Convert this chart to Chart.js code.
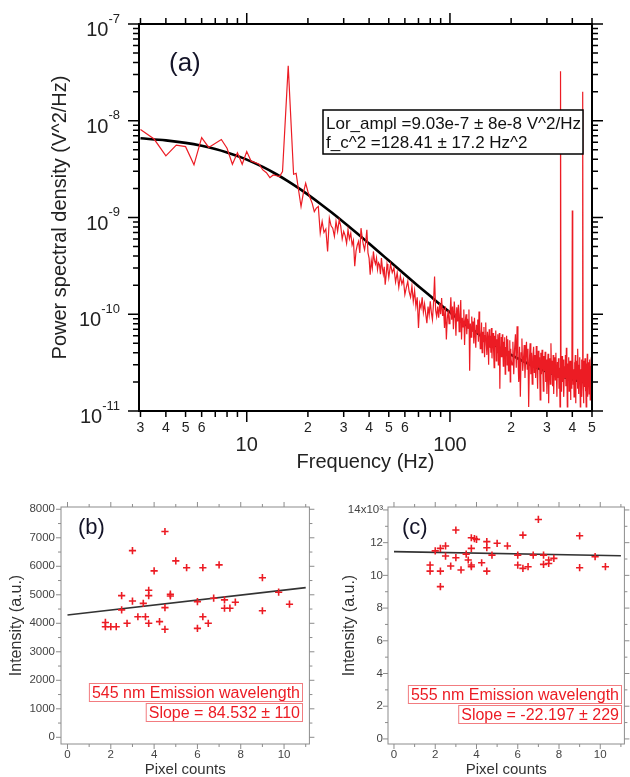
<!DOCTYPE html>
<html>
<head>
<meta charset="utf-8">
<script src="https://cdn.jsdelivr.net/npm/chart.js@4/dist/chart.umd.min.js"></script>
<style>
  html, body { margin: 0; padding: 0; background: #fff; }
  body { width: 630px; height: 777px; position: relative; overflow: hidden; }
  canvas { position: absolute; }
  #psd { left: 0; top: 0; }
  #emB { left: 0; top: 485px; }
  #emC { left: 315px; top: 485px; }
</style>
</head>
<body>
<canvas id="psd" width="630" height="480"></canvas>
<canvas id="emB" width="315" height="292"></canvas>
<canvas id="emC" width="315" height="292"></canvas>
<script>
// ---- (a) power spectrum, PSD values in µV^2/Hz (1 µV^2 = 1e-12 V^2) ----
const lowFreq = [3, 3.5, 4, 4.5, 5, 5.5, 6, 6.5, 7.5, 8, 8.5, 9, 9.5, 10, 10.5, 11, 11.5, 12, 12.5, 13,
  13.5, 14, 14.5, 15, 16, 17];
const lowPsd = [8100, 6470, 4330, 5600, 5400, 3500, 6700, 5300, 6400, 5200, 3550, 4670, 3550, 4800, 3840, 3700,
  3550, 3100, 2900, 2580, 2750, 2700, 2650, 2980, 37000, 2800];

const midFreq = [17.5, 18, 18.5, 19, 19.5, 20, 20.5, 21, 21.5, 22,
  22.5, 23, 23.5, 24, 24.5, 25, 25.5, 26, 26.5, 27,
  27.5, 28, 28.5, 29, 29.5, 30, 30.5, 31, 31.5, 32,
  32.5, 33, 33.5, 34, 34.5, 35, 35.5, 36, 36.5, 37,
  37.5, 38, 38.5, 39, 39.5, 40, 40.5, 41, 41.5, 42,
  42.5, 43, 43.5, 44, 44.5, 45, 45.5, 46, 46.5, 47,
  47.5, 48, 48.5, 49, 49.5, 50,
  51, 52, 53, 54, 55, 56, 57, 58, 59, 60,
  61, 62, 63, 64, 65, 66, 67, 68, 69, 70,
  71, 72, 73, 74, 75, 76, 77, 78, 79, 80,
  81, 82, 83, 84, 85, 86, 87, 88, 89, 90,
  91, 92, 93, 94, 95, 96, 97, 98, 99];
const midPsd = [2860, 1900, 1300, 1800, 2260, 1850, 1600, 1400, 1150, 1250,
  1300, 690, 910, 700, 760, 446, 984, 820, 776, 640,
  910, 720, 946, 820, 600, 717, 650, 540, 746, 600,
  689, 520, 580, 313, 450, 520, 566, 430, 776, 620,
  520, 464, 560, 746, 430, 380, 256, 360, 300, 446,
  360, 330, 381, 290, 340, 325, 260, 380, 300, 260,
  310, 202, 250, 330, 289, 240,
  330, 270, 301, 215, 270, 190, 250, 205, 230, 160,
  190, 219, 170, 150, 195, 136, 175, 120, 150, 72,
  130, 116, 150, 105, 128, 100, 81, 120, 98, 136,
  104, 88, 130, 246, 110, 95, 120, 92, 130, 100,
  147, 96, 115, 72, 120, 55, 90, 110, 80];

const highFreq = [100, 101, 102, 103, 104, 105, 106, 107, 108, 109,
  110, 111, 112, 113, 114, 115, 116, 117, 118, 119,
  120, 121, 122, 123, 124, 125, 126, 127, 128, 129,
  130, 131, 132, 133, 134, 135, 136, 137, 138, 139,
  140, 141, 142, 143, 144, 145, 146, 147, 148, 149,
  150, 151, 152, 153, 154, 155, 156, 157, 158, 159,
  160, 161, 162, 163, 164, 165, 166, 167, 168, 169,
  170, 171, 172, 173, 174, 175, 176, 177, 178, 179,
  180, 181, 182, 183, 184, 185, 186, 187, 188, 189,
  190, 191, 192, 193, 194, 195, 196, 197, 198, 199,
  200];
const highPsd = [95, 150, 88, 120, 70, 135, 102, 60, 118, 84,
  125, 66, 98, 140, 55, 92, 74, 112, 48, 86,
  100, 62, 90, 72, 112, 26, 80, 58, 95, 66,
  84, 50, 92, 60, 45, 78, 64, 88, 52, 107,
  70, 44, 58, 82, 40, 66, 52, 74, 36, 60,
  82, 48, 38, 66, 56, 30, 70, 45, 60, 40,
  72, 35, 55, 64, 42, 28, 60, 48, 68, 33,
  55, 40, 62, 30, 50, 64, 17, 46, 36, 58,
  36, 62, 44, 29, 52, 40, 58, 24, 46, 38,
  60, 30, 47, 55, 26, 42, 36, 54, 20, 44,
  34];

const topFreq = [202, 204, 206, 208, 210, 212, 214, 216, 218, 220,
  222, 224, 226, 228, 230, 232, 234, 236, 238, 240,
  242, 244, 246, 248, 250, 252, 254, 256, 258, 260,
  262, 264, 266, 268, 270, 272, 274, 276, 278, 280,
  282, 284, 286, 288, 290, 292, 294, 296, 298, 300,
  302, 304, 306, 308, 310, 312, 314, 316, 318, 320,
  322, 324, 326, 328, 330, 332, 334, 336, 338, 340,
  342, 344, 346, 348, 350, 352, 354, 356, 358, 360,
  362, 364, 366, 368, 370, 372, 374, 376, 378, 380,
  382, 384, 386, 388, 390, 392, 394, 396, 398, 400,
  402, 404, 406, 408, 410, 412, 414, 416, 418, 420,
  422, 424, 426, 428, 430, 432, 434, 436, 438, 440,
  442, 444, 446, 448, 450, 452, 454, 456, 458, 460,
  462, 464, 466, 468, 470, 472, 474, 476, 478, 480,
  482, 484, 486, 488, 490, 492, 494, 496, 498, 500];
const topPsd = [30, 52, 24, 44, 62, 28, 75, 36, 20, 46,
  14, 40, 56, 26, 34, 48, 22, 38, 52, 27,
  44, 11, 33, 50, 24, 40, 19, 36, 46, 25,
  38, 22, 47, 30, 17, 42, 28, 36, 13, 40,
  24, 43, 31, 16, 37, 26, 41, 20, 34, 15,
  30, 39, 12, 27, 35, 19, 50, 24, 33, 18,
  38, 15, 29, 36, 21, 40, 25, 14, 32, 22,
  35, 17, 28, 11, 32500, 16, 30, 37, 20, 26,
  34, 14, 29, 22, 38, 18, 45, 25, 11, 31,
  21, 36, 16, 28, 33, 13, 30, 24, 17, 1180,
  35, 19, 27, 14, 32, 24, 38, 12, 29, 21,
  33, 17, 44, 25, 15, 30, 22, 36, 11, 27,
  20, 34, 14, 28, 19900, 23, 12, 33, 18, 29,
  35, 16, 26, 11, 31, 22, 39, 14, 28, 19,
  32, 15, 25, 34, 13, 29, 21, 36, 18, 64];

// Lorentzian fit curve
const fitFreq = [3, 4, 5, 6, 7, 8, 9, 10, 12, 14, 16, 18, 20, 23, 26, 30, 35, 40, 45, 50,
  60, 70, 80, 90, 100, 120, 150, 180, 200, 250, 300, 350, 400, 450, 500];
const fitPsd = [6587, 6269, 5902, 5508, 5105, 4709, 4328, 3969, 3330, 2799, 2365, 2011, 1724, 1389, 1138, 894,
  683, 538, 435, 359, 258, 195, 154, 125, 104.7, 77.7, 55.4, 43.3, 38.0, 29.9, 25.5, 22.9, 21.1, 20.0, 19.1];

const psdXTicks = [3, 4, 5, 6, 7, 8, 9, 10, 20, 30, 40, 50, 60, 70, 80, 90, 100, 200, 300, 400, 500];
const psdXLabels = ['3', '4', '5', '6', '', '', '', '10', '2', '3', '4', '5', '6', '', '', '', '100', '2', '3', '4', '5'];
const psdXMajor = [10, 100];
const psdYDecades = [1e-11, 1e-10, 1e-9, 1e-8, 1e-7];
const psdYExponents = ['-11', '-10', '-9', '-8', '-7'];
const decadeSteps = [2, 3, 4, 5, 6, 7, 8, 9];

// ---- (b) 545 nm emission ----
const bPixels = [1.75, 1.75, 2, 2.25, 2.5, 2.5, 2.75, 3, 3, 3.25, 3.5, 3.6, 3.75, 3.75, 3.75, 4, 4.25, 4.5, 4.5, 4.5,
  4.75, 4.75, 5, 5.5, 6, 6, 6.25, 6.25, 6.5, 6.75, 7, 7.25, 7.25, 7.5, 7.75, 9, 9, 9.75, 10.25];
const bIntensity = [4030, 3880, 3880, 3880, 4970, 4470, 4000, 6550, 4780, 4230, 4700, 4230, 5160, 4970, 4000, 5840, 4060, 7220, 4550, 3790,
  5020, 4960, 6190, 5950, 4760, 3820, 5950, 4230, 4000, 4880, 6050, 4820, 4530, 4530, 4740, 5600, 4440, 5090, 4670];
const bFitX = [0, 11];
const bFitY = [4290, 5250];
const bYTicks = [0, 1000, 2000, 3000, 4000, 5000, 6000, 7000, 8000];
const bYMinor = [500, 1500, 2500, 3500, 4500, 5500, 6500, 7500];

// ---- (c) 555 nm emission, intensity in 10^3 ----
const cPixels = [1.75, 1.75, 2, 2.25, 2.25, 2.25, 2.5, 2.5, 2.75, 3, 3, 3.25, 3.5, 3.6, 3.75, 3.75, 3.75, 3.75, 3.9, 4,
  4.25, 4.5, 4.5, 4.5, 4.75, 5, 5.5, 6, 6, 6.25, 6.25, 6.5, 6.75, 7, 7.25, 7.25, 7.5, 7.5, 7.75, 9, 9, 9.75, 10.25];
const cIntensity = [10.63, 10.26, 11.5, 11.65, 10.26, 9.31, 11.8, 11.18, 10.57, 12.77, 11.08, 10.33, 11.3, 10.94, 12.3, 11.65, 10.63, 10.53, 12.25, 12.2,
  10.77, 12.06, 11.69, 10.26, 11.24, 11.96, 11.8, 11.24, 10.63, 12.46, 10.43, 10.53, 11.24, 13.42, 11.24, 10.67, 10.94, 10.73, 11.04, 12.42, 10.47, 11.14, 10.53];
const cFitX = [0, 11];
const cFitY = [11.45, 11.2];
const cYTicks = [0, 2, 4, 6, 8, 10, 12, 14];
const cYMinor = [1, 3, 5, 7, 9, 11, 13];

const emXTicks = [0, 2, 4, 6, 8, 10];
const emXMinor = [1, 3, 5, 7, 9, 11];

const FONT = '"Liberation Sans", Arial, sans-serif';
Chart.defaults.font.family = FONT;

const RED = '#ec1c24';
const toPoints = (xs, ys, k) => xs.map((x, i) => ({ x: x, y: ys[i] * k }));

// box frame with outward ticks on all four sides (Igor style)
function makeFrame(o) {
  return {
    id: 'frame',
    afterDatasetsDraw(chart) {
      const { ctx, chartArea: a, scales: { x, y } } = chart;
      ctx.save();
      ctx.strokeStyle = o.color;
      ctx.lineWidth = o.tickWidth;
      const mark = (axis, vals, len) => {
        vals.forEach(v => {
          const p = axis.getPixelForValue(v);
          ctx.beginPath();
          if (axis === x) {
            ctx.moveTo(p, a.bottom); ctx.lineTo(p, a.bottom + len);
            ctx.moveTo(p, a.top); ctx.lineTo(p, a.top - len);
          } else {
            ctx.moveTo(a.left, p); ctx.lineTo(a.left - len, p);
            ctx.moveTo(a.right, p); ctx.lineTo(a.right + len, p);
          }
          ctx.stroke();
        });
      };
      mark(x, o.xMajor, o.majorLen);
      mark(x, o.xMinor, o.minorLen);
      mark(y, o.yMajor, o.majorLen);
      mark(y, o.yMinor, o.minorLen);
      ctx.lineWidth = o.frameWidth;
      ctx.strokeRect(a.left, a.top, a.right - a.left, a.bottom - a.top);
      ctx.restore();
    }
  };
}

function textBox(ctx, text, right, top, h, font) {
  ctx.font = font;
  const w = ctx.measureText(text).width + 6;
  ctx.fillStyle = '#fff';
  ctx.fillRect(right - w, top, w, h);
  ctx.strokeStyle = '#f27c80';
  ctx.lineWidth = 1;
  ctx.strokeRect(right - w + 0.5, top + 0.5, w - 1, h - 1);
  ctx.fillStyle = RED;
  ctx.textBaseline = 'middle';
  ctx.fillText(text, right - w + 3, top + h / 2 + 1);
}

const noAxis = { grid: { display: false, drawTicks: false }, border: { display: false } };

// ---------------- (a) ----------------
const psdMinorY = [];
psdYDecades.slice(0, 4).forEach(d => decadeSteps.forEach(s => psdMinorY.push(s * d)));
const psdMinorX = psdXTicks.filter(v => psdXMajor.indexOf(v) < 0);

const psdPoints = toPoints(lowFreq, lowPsd, 1e-12)
  .concat(toPoints(midFreq, midPsd, 1e-12))
  .concat(toPoints(highFreq, highPsd, 1e-12))
  .concat(toPoints(topFreq, topPsd, 1e-12));

new Chart(document.getElementById('psd'), {
  type: 'scatter',
  data: {
    datasets: [
      { data: psdPoints, showLine: true, borderColor: RED, borderWidth: 1.2, pointRadius: 0 },
      { data: toPoints(fitFreq, fitPsd, 1e-12), showLine: true, borderColor: '#000', borderWidth: 2.6,
        pointRadius: 0, cubicInterpolationMode: 'monotone' }
    ]
  },
  options: {
    responsive: false, animation: false, events: [],
    layout: { padding: { top: 24, right: 38, left: 0, bottom: 0 } },
    plugins: { legend: { display: false }, tooltip: { enabled: false } },
    scales: {
      x: {
        ...noAxis, type: 'logarithmic', min: 2.95, max: 500,
        afterBuildTicks: s => { s.ticks = psdXTicks.map(v => ({ value: v })); },
        afterFit: s => { s.height = 69; },
        ticks: {
          autoSkip: false, maxRotation: 0, padding: 9, color: '#222',
          callback: (v, i) => psdXMajor.indexOf(v) >= 0 ? ['', psdXLabels[i]] : psdXLabels[i],
          font: c => (c.tick && psdXMajor.indexOf(c.tick.value) >= 0) ? { size: 20, lineHeight: 0.86 } : { size: 14 }
        },
        title: { display: true, text: 'Frequency (Hz)', color: '#222', font: { size: 20 }, padding: { top: 0, bottom: 6 } }
      },
      y: {
        ...noAxis, type: 'logarithmic', min: 1e-11, max: 1e-7,
        afterFit: s => { s.width = 139; },
        ticks: { display: false },
        title: { display: true, text: 'Power spectral density (V^2/Hz)', color: '#222', font: { size: 20 },
          padding: { top: 48, bottom: 0 } }
      }
    }
  },
  plugins: [
    makeFrame({ color: '#000', tickWidth: 1.5, frameWidth: 2, majorLen: 11, minorLen: 6,
      xMajor: psdXMajor, xMinor: psdMinorX, yMajor: psdYDecades, yMinor: psdMinorY }),
    {
      id: 'notesA',
      afterDraw(chart) {
        const ctx = chart.ctx;
        const ys = chart.scales.y;
        ctx.save();
        // decade labels 10^n with raised exponent
        ctx.fillStyle = '#222';
        ctx.textAlign = 'right';
        ctx.textBaseline = 'alphabetic';
        psdYDecades.forEach((d, i) => {
          const p = ys.getPixelForValue(d);
          ctx.font = '13px ' + FONT;
          const sw = ctx.measureText(psdYExponents[i]).width;
          ctx.fillText(psdYExponents[i], 120, p - 1.5);
          ctx.font = '20px ' + FONT;
          ctx.fillText('10', 120 - sw, p + 12);
        });
        ctx.textAlign = 'left';
        ctx.fillStyle = '#141428';
        ctx.font = '26px ' + FONT;
        ctx.textBaseline = 'middle';
        ctx.fillText('(a)', 169, 64);
        // fit results box
        ctx.fillStyle = '#fff';
        ctx.fillRect(323, 110, 260, 44);
        ctx.strokeStyle = '#000';
        ctx.lineWidth = 1.5;
        ctx.strokeRect(323, 110, 260, 44);
        ctx.fillStyle = '#111';
        ctx.font = '17px ' + FONT;
        ctx.fillText('Lor_ampl =9.03e-7 ± 8e-8 V^2/Hz', 326, 124);
        ctx.fillText('f_c^2 =128.41 ± 17.2 Hz^2', 326, 143);
        ctx.restore();
      }
    }
  ]
});

// ---------------- (b) and (c) ----------------
function emissionChart(id, o) {
  return new Chart(document.getElementById(id), {
    type: 'scatter',
    data: {
      datasets: [
        { data: toPoints(o.px, o.py, 1), pointStyle: 'cross', pointRadius: 3.6, borderColor: RED,
          borderWidth: 1.6, backgroundColor: RED },
        { data: toPoints(o.fx, o.fy, 1), showLine: true, borderColor: '#333', borderWidth: 1.6, pointRadius: 0 }
      ]
    },
    options: {
      responsive: false, animation: false, events: [],
      layout: { padding: { top: 22, right: o.padRight, left: 0, bottom: 0 } },
      plugins: { legend: { display: false }, tooltip: { enabled: false } },
      scales: {
        x: {
          ...noAxis, type: 'linear', min: o.xMin, max: 11.17,
          afterBuildTicks: s => { s.ticks = emXTicks.map(v => ({ value: v })); },
          afterFit: s => { s.height = 33; },
          ticks: { autoSkip: false, maxRotation: 0, padding: 4, color: '#444', font: { size: 11.5 }, callback: v => String(v) },
          title: { display: true, text: 'Pixel counts', color: '#333', font: { size: 15, lineHeight: 1 }, padding: { top: 0, bottom: 0 } }
        },
        y: {
          ...noAxis, type: 'linear', min: o.yMin, max: o.yMax,
          afterBuildTicks: s => { s.ticks = o.yTicks.map(v => ({ value: v })); },
          afterFit: s => { s.width = o.axisWidth; },
          ticks: { autoSkip: false, padding: o.labelPad, color: '#444', font: { size: 11.5 }, callback: o.yLabel },
          title: { display: true, text: 'Intensity (a.u.)', color: '#333', font: { size: 16, lineHeight: 1 },
            padding: { top: o.titlePad, bottom: 0 } }
        }
      }
    },
    plugins: [
      makeFrame({ color: '#8c8c8c', tickWidth: 1, frameWidth: 1, majorLen: 5, minorLen: 3,
        xMajor: emXTicks, xMinor: emXMinor, yMajor: o.yTicks, yMinor: o.yMinor }),
      {
        id: 'notes',
        afterDraw(chart) {
          const ctx = chart.ctx;
          ctx.save();
          ctx.fillStyle = '#141428';
          ctx.font = '22px ' + FONT;
          ctx.textBaseline = 'middle';
          ctx.fillText(o.tag, o.tagX, 43);
          const f = '16px ' + FONT;
          textBox(ctx, o.line1, o.boxRight, o.boxTop, 19, f);
          textBox(ctx, o.line2, o.boxRight, o.boxTop + 20, 19, f);
          ctx.restore();
        }
      }
    ]
  });
}

emissionChart('emB', {
  px: bPixels, py: bIntensity, fx: bFitX, fy: bFitY,
  xMin: -0.3, yMin: -235, yMax: 8080, yTicks: bYTicks, yMinor: bYMinor,
  yLabel: v => String(v), axisWidth: 61, padRight: 2, labelPad: 6, titlePad: 9,
  tag: '(b)', tagX: 78, line1: '545 nm Emission wavelength', line2: 'Slope = 84.532 ± 110',
  boxRight: 303, boxTop: 198
});

emissionChart('emC', {
  px: cPixels, py: cIntensity, fx: cFitX, fy: cFitY,
  xMin: -0.29, yMin: -0.31, yMax: 14.18, yTicks: cYTicks, yMinor: cYMinor,
  yLabel: v => v === 14 ? '14x10³' : String(v), axisWidth: 73, padRight: 4, labelPad: 5, titlePad: 27,
  tag: '(c)', tagX: 87, line1: '555 nm Emission wavelength', line2: 'Slope = -22.197 ± 229',
  boxRight: 307, boxTop: 200
});
</script>
</body>
</html>
